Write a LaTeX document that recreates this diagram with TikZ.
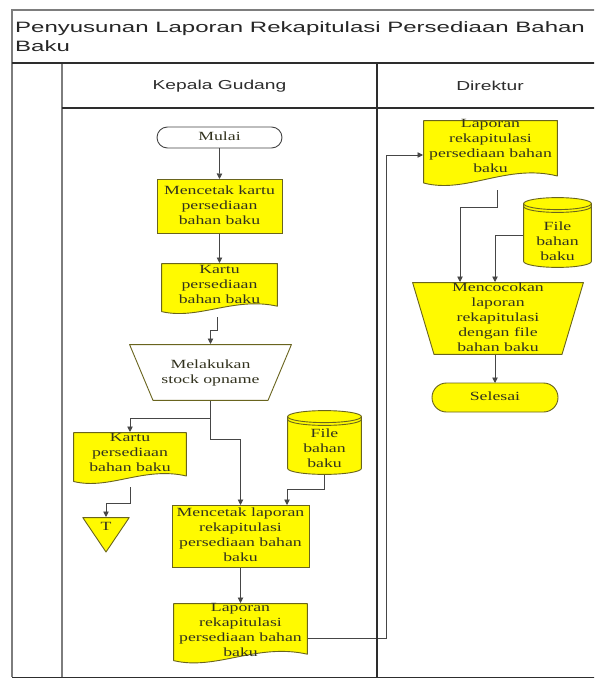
\documentclass[tikz,border=0pt]{standalone}
\usepackage{fontspec}
\usetikzlibrary{shapes.misc,arrows.meta,calc}

% Stretched faces for the wide lettering of the chart
\newfontfamily\titlefont[FakeStretch=1.6]{Liberation Sans}
\newfontfamily\headfont[FakeStretch=1.48]{Liberation Sans}
\newfontfamily\bodyfont[FakeStretch=1.42]{Liberation Serif}

\definecolor{yel}{RGB}{255,250,0}
\definecolor{bord}{RGB}{105,100,30}
\definecolor{txt}{RGB}{50,50,30}
\definecolor{wire}{RGB}{70,70,70}
\definecolor{frm}{RGB}{125,125,125}
\definecolor{dark}{RGB}{45,45,45}

\pgfdeclarelayer{bg}
\pgfsetlayers{bg,main}

% centred block of lines, raised by #1 inside its node
\newcommand{\rtext}[2]{\raisebox{#1}[0pt][0pt]{\begin{tabular}{@{}c@{}}#2\end{tabular}}}

\tikzset{
  shapefill/.store in=\shapefill, shapefill=yel,
  shapebase/.style={inner sep=0pt, outer sep=0pt, text=txt,
    font=\bodyfont\fontsize{12.5}{15}\selectfont},
  outline/.style={fill=\shapefill, draw=bord, line width=0.9pt, line join=round},
  procbox/.style={shapebase, rectangle, fill=yel, draw=bord, line width=0.9pt},
  termbox/.style={shapebase, rounded rectangle, line width=0.9pt},
  docbox/.style={shapebase, path picture={\pgftransformreset
    \path[outline] let \p1=(path picture bounding box.south west),
      \p2=(path picture bounding box.north east),
      \n1={\x2-\x1}, \n2={\y2-\y1} in
      (\x1+0.6pt,\y2-0.6pt) -- (\x2-0.6pt,\y2-0.6pt) -- (\x2-0.6pt,\y1+0.2*\n2)
      .. controls (\x1+0.62*\n1,\y1+0.38*\n2) and (\x1+0.32*\n1,\y1-0.06*\n2)
      .. (\x1+0.6pt,\y1+0.1*\n2) -- cycle;}},
  trapbox/.style={shapebase, path picture={\pgftransformreset
    \path[outline] let \p1=(path picture bounding box.south west),
      \p2=(path picture bounding box.north east) in
      (\x1+0.6pt,\y2-0.6pt) -- (\x2-0.6pt,\y2-0.6pt) -- (\x2-#1,\y1+0.6pt)
      -- (\x1+#1,\y1+0.6pt) -- cycle;}},
  tribox/.style={shapebase, path picture={\pgftransformreset
    \path[outline] let \p1=(path picture bounding box.south west),
      \p2=(path picture bounding box.north east) in
      (\x1+0.8pt,\y2-0.6pt) -- (\x2-0.8pt,\y2-0.6pt) -- ({(\x1+\x2)/2},\y1+1pt) -- cycle;}},
  cylbox/.style={shapebase, path picture={\pgftransformreset
    \path[outline] let \p1=(path picture bounding box.south west),
      \p2=(path picture bounding box.north east),
      \n1={(\x2-\x1)/2-0.6pt} in
      (\x1+0.6pt,\y2-6.6pt) -- (\x1+0.6pt,\y1+6.6pt)
      arc[start angle=180, end angle=360, x radius=\n1, y radius=6pt]
      -- (\x2-0.6pt,\y2-6.6pt)
      arc[start angle=0, end angle=180, x radius=\n1, y radius=6pt] -- cycle;
    \draw[bord, line width=0.9pt] let \p1=(path picture bounding box.south west),
      \p2=(path picture bounding box.north east),
      \n1={(\x2-\x1)/2-0.6pt} in
      (\x1+0.6pt,\y2-6.6pt) arc[start angle=180, end angle=360, x radius=\n1, y radius=6pt]
      (\x1+0.6pt,\y2-9.4pt) arc[start angle=180, end angle=360, x radius=\n1, y radius=6pt];}},
  wireline/.style={draw=wire, line width=0.9pt},
  arr/.style={wireline, -{Triangle[length=5.5pt, width=5.5pt]}},
  lanehead/.style={inner sep=0pt, text=dark, font=\headfont\fontsize{13}{15}\selectfont},
}

\begin{document}
\begin{tikzpicture}[x=1pt, y=-1pt]
\useasboundingbox (0,0) rectangle (594,679);
\clip (0,0) rectangle (594,679);

% ---- pool frame, title row, lane headers ----
\draw[frm, line width=2.6pt] (12,677) -- (12,10) -- (640,10);
\draw[frm, line width=2.4pt] (62,63) -- (62,677);
\draw[dark, line width=1.3pt] (12,63) -- (640,63);
\draw[dark, line width=1.2pt] (62,108) -- (640,108);
\draw[dark, line width=1.3pt] (377,63) -- (377,677);
\draw[dark, line width=1.8pt] (12,677.5) -- (640,677.5);

\node[anchor=north west, align=left, inner sep=0pt, text=black!85,
      font=\titlefont\fontsize{15}{19.5}\selectfont] (title) at (15,21)
  {Penyusunan Laporan Rekapitulasi Persediaan Bahan\\Baku};
\node[lanehead] (hkg) at (219.5,86) {Kepala Gudang};
\node[lanehead] (hdir) at (490,86) {Direktur};

% ---- Kepala Gudang lane ----
\node[termbox, fill=white, draw=wire, minimum width=125pt, minimum height=21pt]
  (mulai) at (219.5,137.5) {\rtext{-3pt}{Mulai}};
\node[procbox, minimum width=125pt, minimum height=54pt]
  (cetak1) at (219.5,206) {\rtext{-3pt}{Mencetak kartu\\persediaan\\bahan baku}};
\node[docbox, minimum width=117pt, minimum height=54pt]
  (kartu1) at (219.5,290) {\rtext{2pt}{Kartu\\persediaan\\bahan baku}};
\node[trapbox=24pt, shapefill=white, minimum width=163pt, minimum height=57pt]
  (opname) at (210.5,372.5) {\rtext{-3pt}{Melakukan\\stock opname}};
\node[docbox, minimum width=114pt, minimum height=55pt]
  (kartu2) at (130,459.5) {\rtext{3.5pt}{Kartu\\persediaan\\bahan baku}};
\node[tribox, minimum width=48pt, minimum height=36pt]
  (tee) at (106,535) {\rtext{5pt}{T}};
\node[cylbox, minimum width=75pt, minimum height=65pt]
  (file1) at (324.5,442.5) {\rtext{-10pt}{File\\bahan\\baku}};
\node[procbox, minimum width=137pt, minimum height=62pt]
  (cetak2) at (240.5,536) {\rtext{-3pt}{Mencetak laporan\\rekapitulasi\\persediaan bahan\\baku}};
\node[docbox, minimum width=135pt, minimum height=64pt]
  (lap1) at (240.5,635) {\rtext{1.5pt}{Laporan\\rekapitulasi\\persediaan bahan\\baku}};

% ---- Direktur lane ----
\node[docbox, minimum width=135pt, minimum height=70pt]
  (lap2) at (490.5,155) {\rtext{5pt}{Laporan\\rekapitulasi\\persediaan bahan\\baku}};
\node[cylbox, minimum width=69pt, minimum height=71pt]
  (file2) at (557.5,232.5) {\rtext{-13pt}{File\\bahan\\baku}};
\node[trapbox=22pt, minimum width=172pt, minimum height=73pt]
  (cocok) at (498,318.5) {\rtext{-3pt}{Mencocokan\\laporan\\rekapitulasi\\dengan file\\bahan baku}};
\node[termbox, fill=yel, draw=bord, minimum width=126pt, minimum height=29pt]
  (selesai) at (495,397.5) {\rtext{-3pt}{Selesai}};

% ---- connectors, kept under the symbols ----
\begin{pgfonlayer}{bg}
\fill[white] (0,0) rectangle (594,679);
\draw[arr] (mulai) -- (cetak1);
\draw[arr] (cetak1) -- (kartu1);
\draw[arr] ([xshift=-2.5pt]kartu1.south) -- ++(0,13) -| (opname.north);
\draw[arr] (opname.south) -- ++(0,17) -| (kartu2.north);
\draw[arr] (opname.south) -- ++(0,38) -| (cetak2.north);
\draw[arr] (kartu2.south) -- ++(0,16) -| (tee.north);
\draw[arr] (file1.south) -- ++(0,14) -| ([xshift=46.5pt]cetak2.north);
\draw[arr] (cetak2) -- (lap1);
\draw[arr] ([yshift=-3pt]lap1.east) -| ([xshift=-37pt]lap2.west) -- (lap2.west);
\draw[arr] ([xshift=6.5pt]lap2.south) -- ++(0,17) -| ([xshift=-38pt]cocok.north);
\draw[arr] ([yshift=-2.5pt]file2.west) -| ([xshift=-3pt]cocok.north);
\draw[arr] (selesai.north |- cocok.south) -- (selesai.north);
\end{pgfonlayer}
\end{tikzpicture}
\end{document}
